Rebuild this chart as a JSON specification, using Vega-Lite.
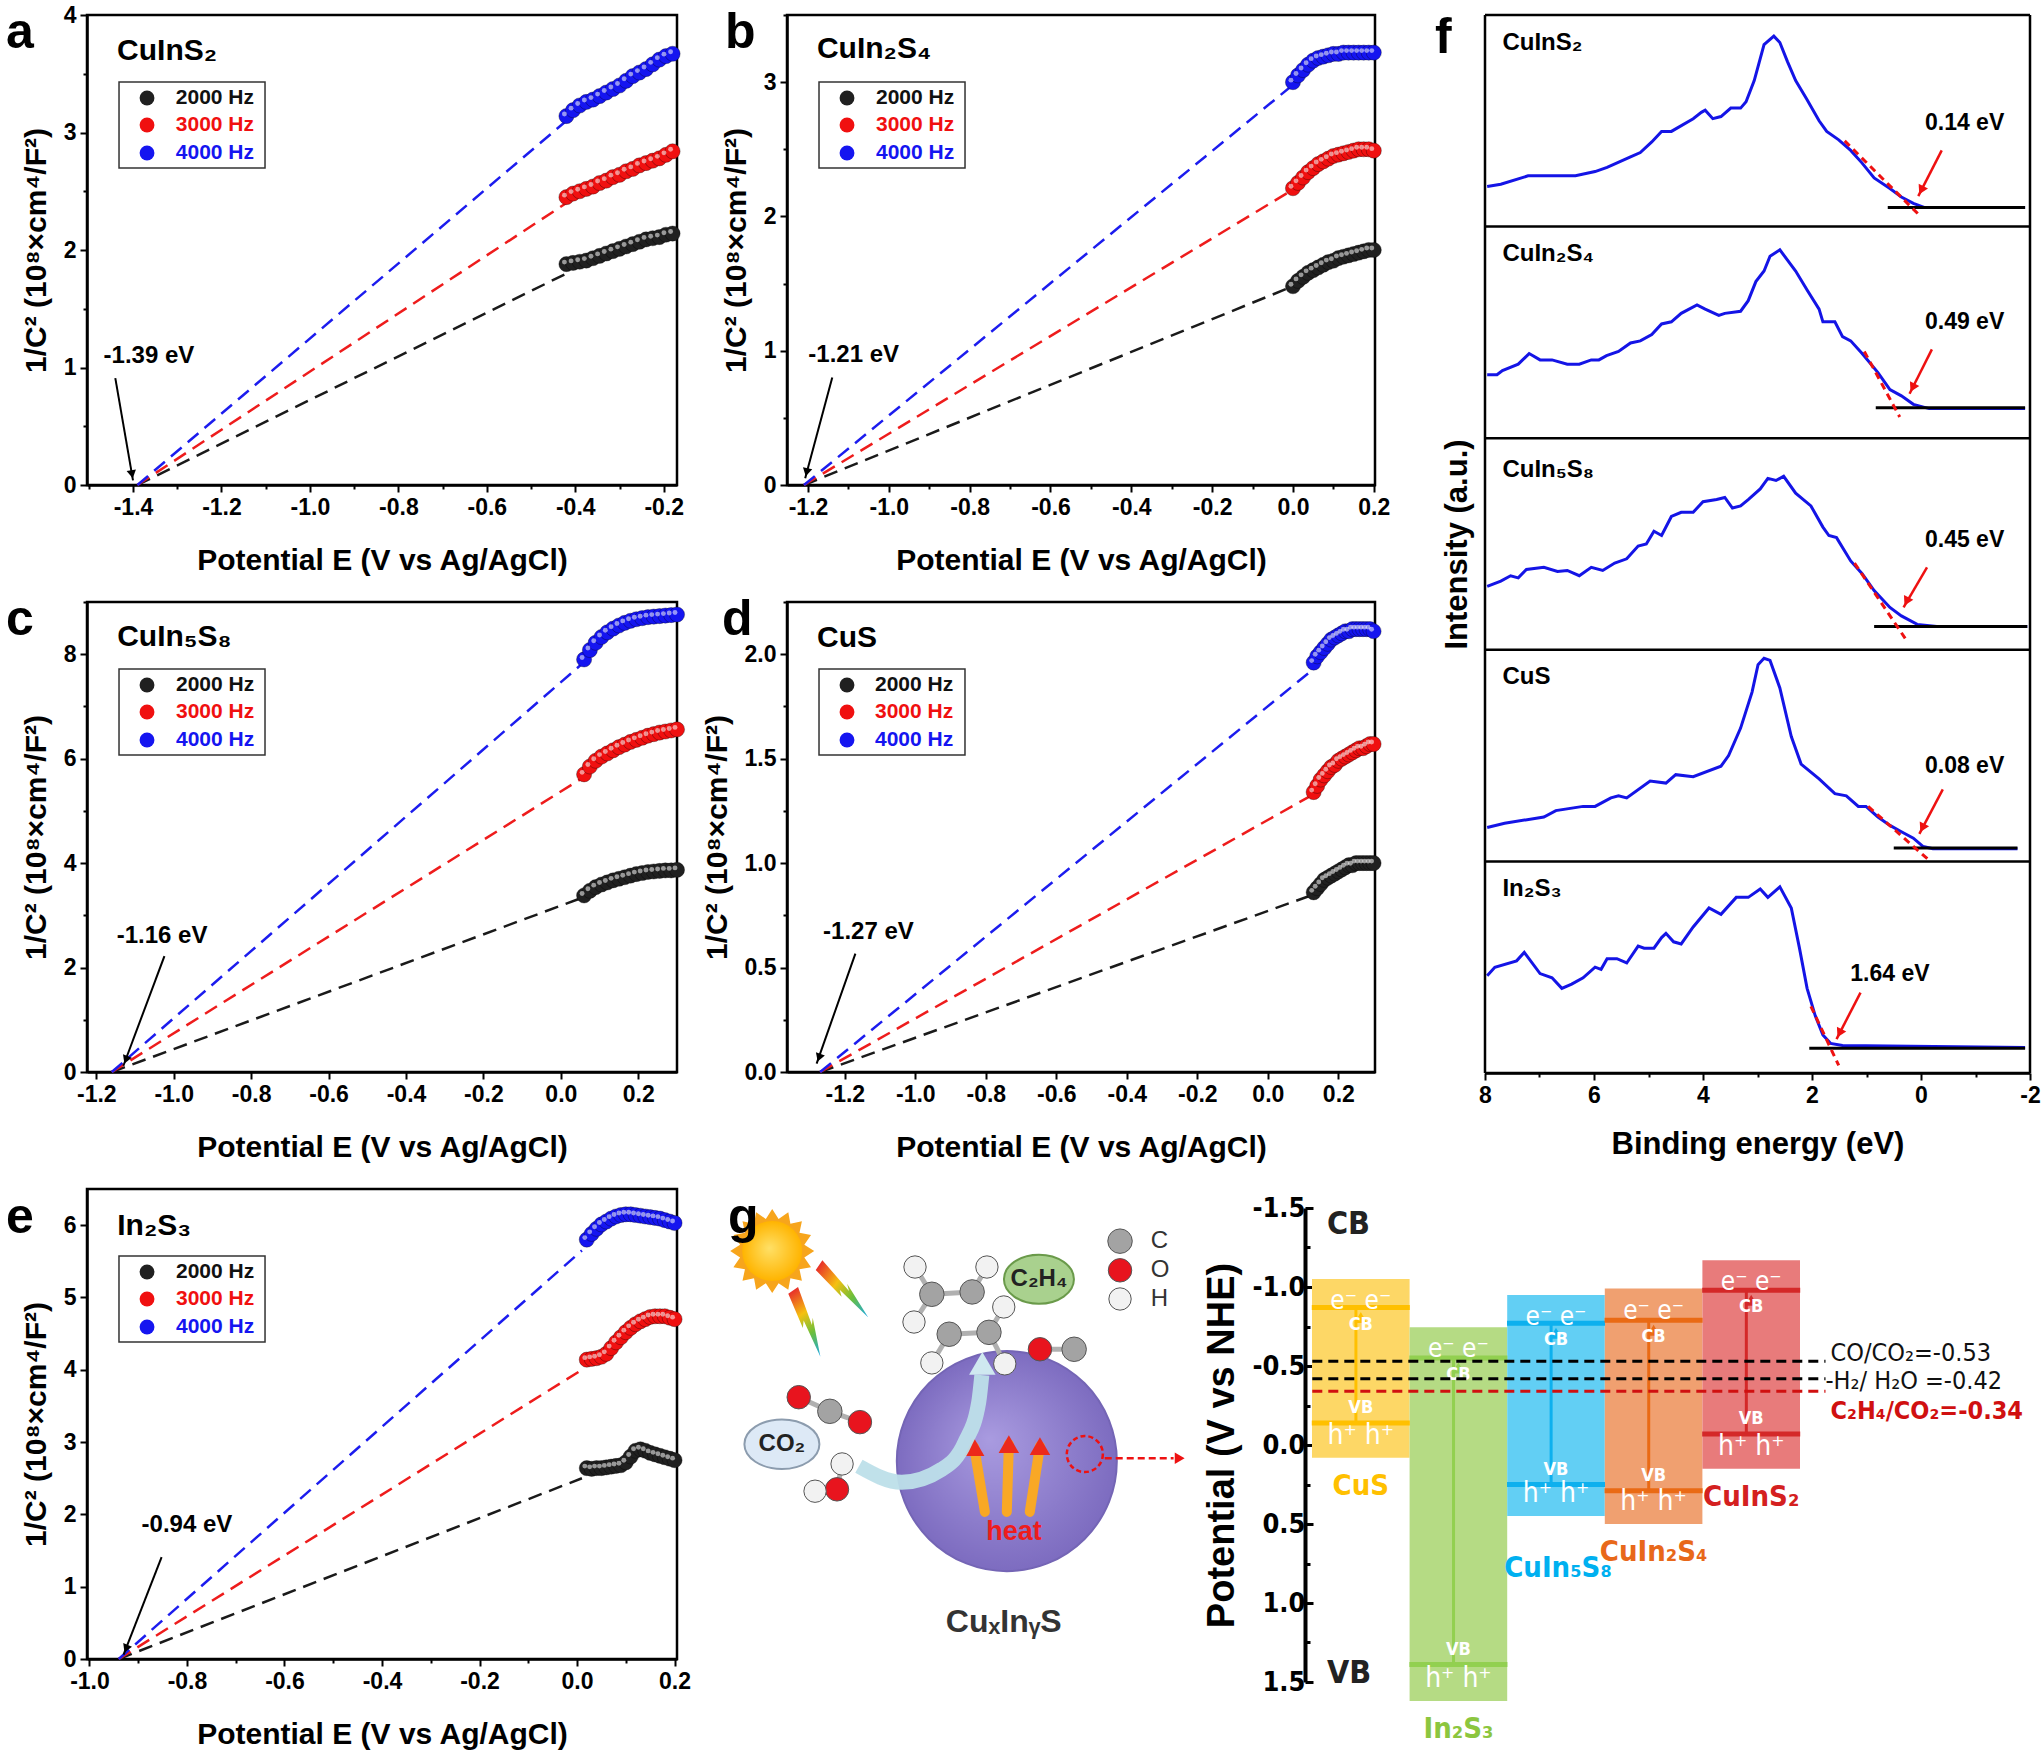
{
  "$schema": "https://vega.github.io/schema/vega-lite/v6.json",
  "background": "white",
  "padding": {"left": 4, "top": 2, "right": 0, "bottom": 0},
  "config": {
    "font": "Arial, Liberation Sans, sans-serif",
    "view": {"stroke": "black", "strokeWidth": 2.5},
    "axis": {"grid": false, "domainColor": "black", "domainWidth": 2.5, "tickColor": "black", "tickWidth": 2, "labelColor": "black", "titleColor": "black", "labelFontWeight": "bold", "titleFontWeight": "bold", "labelFontSize": 23, "titleFontSize": 30, "labelOverlap": false, "labelFlush": false, "labelPadding": 4},
    "title": {"anchor": "start", "frame": "group", "fontSize": 50, "fontWeight": "bold", "offset": 0, "baseline": "alphabetic", "color": "black"}
  },
  "datasets": {
    "msA": [
      {"f":"2000 Hz","E":-0.42,"C":1.88},{"f":"2000 Hz","E":-0.405,"C":1.89},{"f":"2000 Hz","E":-0.39,"C":1.90},{"f":"2000 Hz","E":-0.375,"C":1.91},{"f":"2000 Hz","E":-0.36,"C":1.93},{"f":"2000 Hz","E":-0.345,"C":1.95},{"f":"2000 Hz","E":-0.33,"C":1.97},{"f":"2000 Hz","E":-0.315,"C":1.99},{"f":"2000 Hz","E":-0.30,"C":2.01},{"f":"2000 Hz","E":-0.285,"C":2.03},{"f":"2000 Hz","E":-0.27,"C":2.05},{"f":"2000 Hz","E":-0.255,"C":2.07},{"f":"2000 Hz","E":-0.24,"C":2.09},{"f":"2000 Hz","E":-0.225,"C":2.10},{"f":"2000 Hz","E":-0.21,"C":2.11},{"f":"2000 Hz","E":-0.195,"C":2.13},{"f":"2000 Hz","E":-0.18,"C":2.14},
      {"f":"3000 Hz","E":-0.42,"C":2.45},{"f":"3000 Hz","E":-0.405,"C":2.48},{"f":"3000 Hz","E":-0.39,"C":2.50},{"f":"3000 Hz","E":-0.375,"C":2.52},{"f":"3000 Hz","E":-0.36,"C":2.54},{"f":"3000 Hz","E":-0.345,"C":2.57},{"f":"3000 Hz","E":-0.33,"C":2.59},{"f":"3000 Hz","E":-0.315,"C":2.62},{"f":"3000 Hz","E":-0.30,"C":2.64},{"f":"3000 Hz","E":-0.285,"C":2.67},{"f":"3000 Hz","E":-0.27,"C":2.69},{"f":"3000 Hz","E":-0.255,"C":2.72},{"f":"3000 Hz","E":-0.24,"C":2.74},{"f":"3000 Hz","E":-0.225,"C":2.76},{"f":"3000 Hz","E":-0.21,"C":2.78},{"f":"3000 Hz","E":-0.195,"C":2.81},{"f":"3000 Hz","E":-0.18,"C":2.84},
      {"f":"4000 Hz","E":-0.42,"C":3.14},{"f":"4000 Hz","E":-0.405,"C":3.19},{"f":"4000 Hz","E":-0.39,"C":3.23},{"f":"4000 Hz","E":-0.375,"C":3.26},{"f":"4000 Hz","E":-0.36,"C":3.28},{"f":"4000 Hz","E":-0.345,"C":3.31},{"f":"4000 Hz","E":-0.33,"C":3.34},{"f":"4000 Hz","E":-0.315,"C":3.37},{"f":"4000 Hz","E":-0.30,"C":3.40},{"f":"4000 Hz","E":-0.285,"C":3.44},{"f":"4000 Hz","E":-0.27,"C":3.48},{"f":"4000 Hz","E":-0.255,"C":3.51},{"f":"4000 Hz","E":-0.24,"C":3.54},{"f":"4000 Hz","E":-0.225,"C":3.58},{"f":"4000 Hz","E":-0.21,"C":3.62},{"f":"4000 Hz","E":-0.195,"C":3.65},{"f":"4000 Hz","E":-0.18,"C":3.67}
    ],
    "lnA": [
      {"f":"2000 Hz","E":-1.39,"C":0},{"f":"2000 Hz","E":-0.42,"C":1.80},
      {"f":"3000 Hz","E":-1.39,"C":0},{"f":"3000 Hz","E":-0.42,"C":2.40},
      {"f":"4000 Hz","E":-1.39,"C":0},{"f":"4000 Hz","E":-0.42,"C":3.10}
    ],
    "msB": [
      {"f":"2000 Hz","E":0,"C":1.48},{"f":"2000 Hz","E":0.0125,"C":1.52},{"f":"2000 Hz","E":0.025,"C":1.55},{"f":"2000 Hz","E":0.0375,"C":1.58},{"f":"2000 Hz","E":0.05,"C":1.60},{"f":"2000 Hz","E":0.0625,"C":1.62},{"f":"2000 Hz","E":0.075,"C":1.64},{"f":"2000 Hz","E":0.0875,"C":1.66},{"f":"2000 Hz","E":0.1,"C":1.67},{"f":"2000 Hz","E":0.1125,"C":1.69},{"f":"2000 Hz","E":0.125,"C":1.70},{"f":"2000 Hz","E":0.1375,"C":1.71},{"f":"2000 Hz","E":0.15,"C":1.72},{"f":"2000 Hz","E":0.1625,"C":1.73},{"f":"2000 Hz","E":0.175,"C":1.74},{"f":"2000 Hz","E":0.1875,"C":1.75},{"f":"2000 Hz","E":0.2,"C":1.75},
      {"f":"3000 Hz","E":0,"C":2.21},{"f":"3000 Hz","E":0.0125,"C":2.25},{"f":"3000 Hz","E":0.025,"C":2.29},{"f":"3000 Hz","E":0.0375,"C":2.33},{"f":"3000 Hz","E":0.05,"C":2.36},{"f":"3000 Hz","E":0.0625,"C":2.39},{"f":"3000 Hz","E":0.075,"C":2.41},{"f":"3000 Hz","E":0.0875,"C":2.43},{"f":"3000 Hz","E":0.1,"C":2.45},{"f":"3000 Hz","E":0.1125,"C":2.46},{"f":"3000 Hz","E":0.125,"C":2.47},{"f":"3000 Hz","E":0.1375,"C":2.48},{"f":"3000 Hz","E":0.15,"C":2.49},{"f":"3000 Hz","E":0.1625,"C":2.50},{"f":"3000 Hz","E":0.175,"C":2.50},{"f":"3000 Hz","E":0.1875,"C":2.50},{"f":"3000 Hz","E":0.2,"C":2.49},
      {"f":"4000 Hz","E":0,"C":3.00},{"f":"4000 Hz","E":0.0125,"C":3.05},{"f":"4000 Hz","E":0.025,"C":3.09},{"f":"4000 Hz","E":0.0375,"C":3.13},{"f":"4000 Hz","E":0.05,"C":3.16},{"f":"4000 Hz","E":0.0625,"C":3.18},{"f":"4000 Hz","E":0.075,"C":3.19},{"f":"4000 Hz","E":0.0875,"C":3.20},{"f":"4000 Hz","E":0.1,"C":3.21},{"f":"4000 Hz","E":0.1125,"C":3.21},{"f":"4000 Hz","E":0.125,"C":3.22},{"f":"4000 Hz","E":0.1375,"C":3.22},{"f":"4000 Hz","E":0.15,"C":3.22},{"f":"4000 Hz","E":0.1625,"C":3.22},{"f":"4000 Hz","E":0.175,"C":3.22},{"f":"4000 Hz","E":0.1875,"C":3.22},{"f":"4000 Hz","E":0.2,"C":3.22}
    ],
    "lnB": [
      {"f":"2000 Hz","E":-1.21,"C":0},{"f":"2000 Hz","E":0,"C":1.48},
      {"f":"3000 Hz","E":-1.21,"C":0},{"f":"3000 Hz","E":0,"C":2.20},
      {"f":"4000 Hz","E":-1.21,"C":0},{"f":"4000 Hz","E":0,"C":2.98}
    ],
    "msC": [
      {"f":"2000 Hz","E":0.06,"C":3.38},{"f":"2000 Hz","E":0.075,"C":3.47},{"f":"2000 Hz","E":0.09,"C":3.54},{"f":"2000 Hz","E":0.105,"C":3.59},{"f":"2000 Hz","E":0.12,"C":3.63},{"f":"2000 Hz","E":0.135,"C":3.67},{"f":"2000 Hz","E":0.15,"C":3.70},{"f":"2000 Hz","E":0.165,"C":3.73},{"f":"2000 Hz","E":0.18,"C":3.76},{"f":"2000 Hz","E":0.195,"C":3.79},{"f":"2000 Hz","E":0.21,"C":3.81},{"f":"2000 Hz","E":0.225,"C":3.83},{"f":"2000 Hz","E":0.24,"C":3.84},{"f":"2000 Hz","E":0.255,"C":3.85},{"f":"2000 Hz","E":0.27,"C":3.86},{"f":"2000 Hz","E":0.285,"C":3.86},{"f":"2000 Hz","E":0.3,"C":3.87},
      {"f":"3000 Hz","E":0.06,"C":5.70},{"f":"3000 Hz","E":0.075,"C":5.85},{"f":"3000 Hz","E":0.09,"C":5.96},{"f":"3000 Hz","E":0.105,"C":6.04},{"f":"3000 Hz","E":0.12,"C":6.10},{"f":"3000 Hz","E":0.135,"C":6.16},{"f":"3000 Hz","E":0.15,"C":6.22},{"f":"3000 Hz","E":0.165,"C":6.27},{"f":"3000 Hz","E":0.18,"C":6.32},{"f":"3000 Hz","E":0.195,"C":6.36},{"f":"3000 Hz","E":0.21,"C":6.40},{"f":"3000 Hz","E":0.225,"C":6.44},{"f":"3000 Hz","E":0.24,"C":6.47},{"f":"3000 Hz","E":0.255,"C":6.50},{"f":"3000 Hz","E":0.27,"C":6.52},{"f":"3000 Hz","E":0.285,"C":6.54},{"f":"3000 Hz","E":0.3,"C":6.56},
      {"f":"4000 Hz","E":0.06,"C":7.90},{"f":"4000 Hz","E":0.075,"C":8.08},{"f":"4000 Hz","E":0.09,"C":8.22},{"f":"4000 Hz","E":0.105,"C":8.33},{"f":"4000 Hz","E":0.12,"C":8.42},{"f":"4000 Hz","E":0.135,"C":8.49},{"f":"4000 Hz","E":0.15,"C":8.55},{"f":"4000 Hz","E":0.165,"C":8.60},{"f":"4000 Hz","E":0.18,"C":8.64},{"f":"4000 Hz","E":0.195,"C":8.67},{"f":"4000 Hz","E":0.21,"C":8.69},{"f":"4000 Hz","E":0.225,"C":8.71},{"f":"4000 Hz","E":0.24,"C":8.72},{"f":"4000 Hz","E":0.255,"C":8.73},{"f":"4000 Hz","E":0.27,"C":8.74},{"f":"4000 Hz","E":0.285,"C":8.75},{"f":"4000 Hz","E":0.3,"C":8.76}
    ],
    "lnC": [
      {"f":"2000 Hz","E":-1.16,"C":0},{"f":"2000 Hz","E":0.06,"C":3.35},
      {"f":"3000 Hz","E":-1.16,"C":0},{"f":"3000 Hz","E":0.06,"C":5.65},
      {"f":"4000 Hz","E":-1.16,"C":0},{"f":"4000 Hz","E":0.06,"C":7.85}
    ],
    "msD": [
      {"f":"2000 Hz","E":0.13,"C":0.86},{"f":"2000 Hz","E":0.14,"C":0.88},{"f":"2000 Hz","E":0.15,"C":0.90},{"f":"2000 Hz","E":0.16,"C":0.92},{"f":"2000 Hz","E":0.17,"C":0.93},{"f":"2000 Hz","E":0.18,"C":0.94},{"f":"2000 Hz","E":0.19,"C":0.95},{"f":"2000 Hz","E":0.20,"C":0.96},{"f":"2000 Hz","E":0.21,"C":0.97},{"f":"2000 Hz","E":0.22,"C":0.98},{"f":"2000 Hz","E":0.23,"C":0.99},{"f":"2000 Hz","E":0.24,"C":0.99},{"f":"2000 Hz","E":0.25,"C":1.00},{"f":"2000 Hz","E":0.26,"C":1.00},{"f":"2000 Hz","E":0.27,"C":1.00},{"f":"2000 Hz","E":0.28,"C":1.00},{"f":"2000 Hz","E":0.29,"C":1.00},{"f":"2000 Hz","E":0.30,"C":1.00},
      {"f":"3000 Hz","E":0.13,"C":1.34},{"f":"3000 Hz","E":0.14,"C":1.37},{"f":"3000 Hz","E":0.15,"C":1.40},{"f":"3000 Hz","E":0.16,"C":1.42},{"f":"3000 Hz","E":0.17,"C":1.44},{"f":"3000 Hz","E":0.18,"C":1.46},{"f":"3000 Hz","E":0.19,"C":1.47},{"f":"3000 Hz","E":0.20,"C":1.49},{"f":"3000 Hz","E":0.21,"C":1.50},{"f":"3000 Hz","E":0.22,"C":1.51},{"f":"3000 Hz","E":0.23,"C":1.52},{"f":"3000 Hz","E":0.24,"C":1.53},{"f":"3000 Hz","E":0.25,"C":1.54},{"f":"3000 Hz","E":0.26,"C":1.55},{"f":"3000 Hz","E":0.27,"C":1.55},{"f":"3000 Hz","E":0.28,"C":1.56},{"f":"3000 Hz","E":0.29,"C":1.57},{"f":"3000 Hz","E":0.30,"C":1.57},
      {"f":"4000 Hz","E":0.13,"C":1.96},{"f":"4000 Hz","E":0.14,"C":1.99},{"f":"4000 Hz","E":0.15,"C":2.01},{"f":"4000 Hz","E":0.16,"C":2.03},{"f":"4000 Hz","E":0.17,"C":2.05},{"f":"4000 Hz","E":0.18,"C":2.07},{"f":"4000 Hz","E":0.19,"C":2.08},{"f":"4000 Hz","E":0.20,"C":2.09},{"f":"4000 Hz","E":0.21,"C":2.10},{"f":"4000 Hz","E":0.22,"C":2.11},{"f":"4000 Hz","E":0.23,"C":2.11},{"f":"4000 Hz","E":0.24,"C":2.12},{"f":"4000 Hz","E":0.25,"C":2.12},{"f":"4000 Hz","E":0.26,"C":2.12},{"f":"4000 Hz","E":0.27,"C":2.12},{"f":"4000 Hz","E":0.28,"C":2.12},{"f":"4000 Hz","E":0.29,"C":2.12},{"f":"4000 Hz","E":0.30,"C":2.11}
    ],
    "lnD": [
      {"f":"2000 Hz","E":-1.27,"C":0},{"f":"2000 Hz","E":0.13,"C":0.85},
      {"f":"3000 Hz","E":-1.27,"C":0},{"f":"3000 Hz","E":0.13,"C":1.33},
      {"f":"4000 Hz","E":-1.27,"C":0},{"f":"4000 Hz","E":0.13,"C":1.93}
    ],
    "msE": [
      {"f":"2000 Hz","E":0.02,"C":2.64},{"f":"2000 Hz","E":0.03,"C":2.63},{"f":"2000 Hz","E":0.04,"C":2.64},{"f":"2000 Hz","E":0.05,"C":2.64},{"f":"2000 Hz","E":0.06,"C":2.65},{"f":"2000 Hz","E":0.07,"C":2.66},{"f":"2000 Hz","E":0.08,"C":2.67},{"f":"2000 Hz","E":0.09,"C":2.68},{"f":"2000 Hz","E":0.10,"C":2.72},{"f":"2000 Hz","E":0.11,"C":2.80},{"f":"2000 Hz","E":0.12,"C":2.88},{"f":"2000 Hz","E":0.13,"C":2.90},{"f":"2000 Hz","E":0.14,"C":2.88},{"f":"2000 Hz","E":0.15,"C":2.85},{"f":"2000 Hz","E":0.16,"C":2.83},{"f":"2000 Hz","E":0.17,"C":2.81},{"f":"2000 Hz","E":0.18,"C":2.79},{"f":"2000 Hz","E":0.19,"C":2.77},{"f":"2000 Hz","E":0.20,"C":2.75},
      {"f":"3000 Hz","E":0.02,"C":4.14},{"f":"3000 Hz","E":0.03,"C":4.15},{"f":"3000 Hz","E":0.04,"C":4.16},{"f":"3000 Hz","E":0.05,"C":4.18},{"f":"3000 Hz","E":0.06,"C":4.22},{"f":"3000 Hz","E":0.07,"C":4.30},{"f":"3000 Hz","E":0.08,"C":4.38},{"f":"3000 Hz","E":0.09,"C":4.45},{"f":"3000 Hz","E":0.10,"C":4.52},{"f":"3000 Hz","E":0.11,"C":4.58},{"f":"3000 Hz","E":0.12,"C":4.63},{"f":"3000 Hz","E":0.13,"C":4.67},{"f":"3000 Hz","E":0.14,"C":4.70},{"f":"3000 Hz","E":0.15,"C":4.73},{"f":"3000 Hz","E":0.16,"C":4.74},{"f":"3000 Hz","E":0.17,"C":4.74},{"f":"3000 Hz","E":0.18,"C":4.74},{"f":"3000 Hz","E":0.19,"C":4.72},{"f":"3000 Hz","E":0.20,"C":4.70},
      {"f":"4000 Hz","E":0.02,"C":5.80},{"f":"4000 Hz","E":0.03,"C":5.88},{"f":"4000 Hz","E":0.04,"C":5.95},{"f":"4000 Hz","E":0.05,"C":6.01},{"f":"4000 Hz","E":0.06,"C":6.05},{"f":"4000 Hz","E":0.07,"C":6.09},{"f":"4000 Hz","E":0.08,"C":6.12},{"f":"4000 Hz","E":0.09,"C":6.14},{"f":"4000 Hz","E":0.10,"C":6.15},{"f":"4000 Hz","E":0.11,"C":6.15},{"f":"4000 Hz","E":0.12,"C":6.14},{"f":"4000 Hz","E":0.13,"C":6.13},{"f":"4000 Hz","E":0.14,"C":6.12},{"f":"4000 Hz","E":0.15,"C":6.11},{"f":"4000 Hz","E":0.16,"C":6.10},{"f":"4000 Hz","E":0.17,"C":6.09},{"f":"4000 Hz","E":0.18,"C":6.07},{"f":"4000 Hz","E":0.19,"C":6.05},{"f":"4000 Hz","E":0.20,"C":6.03}
    ],
    "lnE": [
      {"f":"2000 Hz","E":-0.94,"C":0},{"f":"2000 Hz","E":0.01,"C":2.50},
      {"f":"3000 Hz","E":-0.94,"C":0},{"f":"3000 Hz","E":0.01,"C":4.00},
      {"f":"4000 Hz","E":-0.94,"C":0},{"f":"4000 Hz","E":0.01,"C":5.65}
    ],
    "xps": [
      {"s":"CuInS2","BE":7.96,"I":4.19},{"s":"CuInS2","BE":7.71,"I":4.20},{"s":"CuInS2","BE":7.21,"I":4.24},{"s":"CuInS2","BE":6.77,"I":4.24},{"s":"CuInS2","BE":6.34,"I":4.24},{"s":"CuInS2","BE":5.98,"I":4.26},{"s":"CuInS2","BE":5.76,"I":4.28},{"s":"CuInS2","BE":5.33,"I":4.33},{"s":"CuInS2","BE":5.15,"I":4.35},{"s":"CuInS2","BE":4.94,"I":4.40},{"s":"CuInS2","BE":4.76,"I":4.45},{"s":"CuInS2","BE":4.58,"I":4.45},{"s":"CuInS2","BE":4.18,"I":4.51},{"s":"CuInS2","BE":4.03,"I":4.54},{"s":"CuInS2","BE":3.96,"I":4.55},{"s":"CuInS2","BE":3.82,"I":4.51},{"s":"CuInS2","BE":3.67,"I":4.52},{"s":"CuInS2","BE":3.49,"I":4.56},{"s":"CuInS2","BE":3.31,"I":4.56},{"s":"CuInS2","BE":3.21,"I":4.59},{"s":"CuInS2","BE":3.06,"I":4.69},{"s":"CuInS2","BE":2.88,"I":4.86},{"s":"CuInS2","BE":2.70,"I":4.90},{"s":"CuInS2","BE":2.59,"I":4.87},{"s":"CuInS2","BE":2.45,"I":4.78},{"s":"CuInS2","BE":2.30,"I":4.69},{"s":"CuInS2","BE":2.09,"I":4.60},{"s":"CuInS2","BE":1.87,"I":4.50},{"s":"CuInS2","BE":1.73,"I":4.45},{"s":"CuInS2","BE":1.51,"I":4.41},{"s":"CuInS2","BE":1.29,"I":4.36},{"s":"CuInS2","BE":1.08,"I":4.30},{"s":"CuInS2","BE":0.86,"I":4.23},{"s":"CuInS2","BE":0.57,"I":4.18},{"s":"CuInS2","BE":0.36,"I":4.14},{"s":"CuInS2","BE":0.14,"I":4.11},{"s":"CuInS2","BE":-0.07,"I":4.09},{"s":"CuInS2","BE":-0.29,"I":4.09},{"s":"CuInS2","BE":-1.91,"I":4.09},
      {"s":"CuIn2S4","BE":7.96,"I":3.30},{"s":"CuIn2S4","BE":7.78,"I":3.30},{"s":"CuIn2S4","BE":7.68,"I":3.32},{"s":"CuIn2S4","BE":7.39,"I":3.35},{"s":"CuIn2S4","BE":7.19,"I":3.40},{"s":"CuIn2S4","BE":6.99,"I":3.37},{"s":"CuIn2S4","BE":6.77,"I":3.37},{"s":"CuIn2S4","BE":6.49,"I":3.35},{"s":"CuIn2S4","BE":6.27,"I":3.35},{"s":"CuIn2S4","BE":6.05,"I":3.37},{"s":"CuIn2S4","BE":5.91,"I":3.37},{"s":"CuIn2S4","BE":5.77,"I":3.39},{"s":"CuIn2S4","BE":5.55,"I":3.41},{"s":"CuIn2S4","BE":5.33,"I":3.45},{"s":"CuIn2S4","BE":5.15,"I":3.46},{"s":"CuIn2S4","BE":4.94,"I":3.49},{"s":"CuIn2S4","BE":4.76,"I":3.54},{"s":"CuIn2S4","BE":4.58,"I":3.55},{"s":"CuIn2S4","BE":4.40,"I":3.59},{"s":"CuIn2S4","BE":4.11,"I":3.63},{"s":"CuIn2S4","BE":3.96,"I":3.61},{"s":"CuIn2S4","BE":3.71,"I":3.58},{"s":"CuIn2S4","BE":3.60,"I":3.59},{"s":"CuIn2S4","BE":3.31,"I":3.60},{"s":"CuIn2S4","BE":3.17,"I":3.65},{"s":"CuIn2S4","BE":3.03,"I":3.74},{"s":"CuIn2S4","BE":2.88,"I":3.79},{"s":"CuIn2S4","BE":2.77,"I":3.86},{"s":"CuIn2S4","BE":2.59,"I":3.89},{"s":"CuIn2S4","BE":2.30,"I":3.79},{"s":"CuIn2S4","BE":2.09,"I":3.70},{"s":"CuIn2S4","BE":1.87,"I":3.61},{"s":"CuIn2S4","BE":1.80,"I":3.55},{"s":"CuIn2S4","BE":1.58,"I":3.55},{"s":"CuIn2S4","BE":1.44,"I":3.48},{"s":"CuIn2S4","BE":1.29,"I":3.46},{"s":"CuIn2S4","BE":1.08,"I":3.40},{"s":"CuIn2S4","BE":0.79,"I":3.31},{"s":"CuIn2S4","BE":0.57,"I":3.23},{"s":"CuIn2S4","BE":0.36,"I":3.20},{"s":"CuIn2S4","BE":0.14,"I":3.16},{"s":"CuIn2S4","BE":-0.15,"I":3.14},{"s":"CuIn2S4","BE":-1.91,"I":3.14},
      {"s":"CuIn5S8","BE":7.96,"I":2.30},{"s":"CuIn5S8","BE":7.71,"I":2.325},{"s":"CuIn5S8","BE":7.53,"I":2.35},{"s":"CuIn5S8","BE":7.39,"I":2.34},{"s":"CuIn5S8","BE":7.24,"I":2.38},{"s":"CuIn5S8","BE":6.92,"I":2.39},{"s":"CuIn5S8","BE":6.67,"I":2.37},{"s":"CuIn5S8","BE":6.49,"I":2.375},{"s":"CuIn5S8","BE":6.27,"I":2.35},{"s":"CuIn5S8","BE":6.05,"I":2.39},{"s":"CuIn5S8","BE":5.84,"I":2.375},{"s":"CuIn5S8","BE":5.62,"I":2.41},{"s":"CuIn5S8","BE":5.40,"I":2.43},{"s":"CuIn5S8","BE":5.19,"I":2.49},{"s":"CuIn5S8","BE":5.04,"I":2.50},{"s":"CuIn5S8","BE":4.90,"I":2.56},{"s":"CuIn5S8","BE":4.76,"I":2.54},{"s":"CuIn5S8","BE":4.58,"I":2.63},{"s":"CuIn5S8","BE":4.40,"I":2.65},{"s":"CuIn5S8","BE":4.18,"I":2.65},{"s":"CuIn5S8","BE":4.00,"I":2.70},{"s":"CuIn5S8","BE":3.75,"I":2.71},{"s":"CuIn5S8","BE":3.60,"I":2.72},{"s":"CuIn5S8","BE":3.46,"I":2.67},{"s":"CuIn5S8","BE":3.31,"I":2.68},{"s":"CuIn5S8","BE":3.17,"I":2.71},{"s":"CuIn5S8","BE":2.95,"I":2.76},{"s":"CuIn5S8","BE":2.81,"I":2.81},{"s":"CuIn5S8","BE":2.66,"I":2.80},{"s":"CuIn5S8","BE":2.52,"I":2.82},{"s":"CuIn5S8","BE":2.30,"I":2.74},{"s":"CuIn5S8","BE":2.02,"I":2.68},{"s":"CuIn5S8","BE":1.80,"I":2.58},{"s":"CuIn5S8","BE":1.69,"I":2.54},{"s":"CuIn5S8","BE":1.55,"I":2.53},{"s":"CuIn5S8","BE":1.29,"I":2.42},{"s":"CuIn5S8","BE":1.08,"I":2.36},{"s":"CuIn5S8","BE":0.86,"I":2.28},{"s":"CuIn5S8","BE":0.57,"I":2.20},{"s":"CuIn5S8","BE":0.36,"I":2.16},{"s":"CuIn5S8","BE":0.07,"I":2.12},{"s":"CuIn5S8","BE":-0.29,"I":2.11},{"s":"CuIn5S8","BE":-1.95,"I":2.11},
      {"s":"CuS","BE":7.96,"I":1.16},{"s":"CuS","BE":7.64,"I":1.18},{"s":"CuS","BE":6.92,"I":1.21},{"s":"CuS","BE":6.70,"I":1.24},{"s":"CuS","BE":6.20,"I":1.26},{"s":"CuS","BE":5.98,"I":1.26},{"s":"CuS","BE":5.69,"I":1.30},{"s":"CuS","BE":5.55,"I":1.31},{"s":"CuS","BE":5.40,"I":1.30},{"s":"CuS","BE":4.97,"I":1.38},{"s":"CuS","BE":4.68,"I":1.37},{"s":"CuS","BE":4.50,"I":1.41},{"s":"CuS","BE":4.18,"I":1.40},{"s":"CuS","BE":3.67,"I":1.45},{"s":"CuS","BE":3.53,"I":1.50},{"s":"CuS","BE":3.31,"I":1.63},{"s":"CuS","BE":3.10,"I":1.80},{"s":"CuS","BE":2.99,"I":1.93},{"s":"CuS","BE":2.88,"I":1.96},{"s":"CuS","BE":2.77,"I":1.95},{"s":"CuS","BE":2.59,"I":1.82},{"s":"CuS","BE":2.38,"I":1.59},{"s":"CuS","BE":2.20,"I":1.46},{"s":"CuS","BE":1.87,"I":1.39},{"s":"CuS","BE":1.58,"I":1.32},{"s":"CuS","BE":1.37,"I":1.31},{"s":"CuS","BE":1.15,"I":1.26},{"s":"CuS","BE":1.01,"I":1.26},{"s":"CuS","BE":0.79,"I":1.21},{"s":"CuS","BE":0.57,"I":1.17},{"s":"CuS","BE":0.36,"I":1.14},{"s":"CuS","BE":0.14,"I":1.11},{"s":"CuS","BE":-0.04,"I":1.07},{"s":"CuS","BE":-0.22,"I":1.06},{"s":"CuS","BE":-1.77,"I":1.06},
      {"s":"In2S3","BE":7.96,"I":0.46},{"s":"In2S3","BE":7.82,"I":0.50},{"s":"In2S3","BE":7.42,"I":0.53},{"s":"In2S3","BE":7.28,"I":0.57},{"s":"In2S3","BE":6.99,"I":0.47},{"s":"In2S3","BE":6.77,"I":0.45},{"s":"In2S3","BE":6.59,"I":0.40},{"s":"In2S3","BE":6.41,"I":0.42},{"s":"In2S3","BE":6.20,"I":0.45},{"s":"In2S3","BE":5.98,"I":0.50},{"s":"In2S3","BE":5.87,"I":0.49},{"s":"In2S3","BE":5.76,"I":0.54},{"s":"In2S3","BE":5.58,"I":0.54},{"s":"In2S3","BE":5.40,"I":0.52},{"s":"In2S3","BE":5.19,"I":0.60},{"s":"In2S3","BE":5.08,"I":0.59},{"s":"In2S3","BE":4.90,"I":0.59},{"s":"In2S3","BE":4.76,"I":0.64},{"s":"In2S3","BE":4.68,"I":0.66},{"s":"In2S3","BE":4.54,"I":0.62},{"s":"In2S3","BE":4.40,"I":0.61},{"s":"In2S3","BE":4.18,"I":0.69},{"s":"In2S3","BE":3.89,"I":0.78},{"s":"In2S3","BE":3.67,"I":0.75},{"s":"In2S3","BE":3.39,"I":0.83},{"s":"In2S3","BE":3.17,"I":0.83},{"s":"In2S3","BE":2.95,"I":0.87},{"s":"In2S3","BE":2.81,"I":0.83},{"s":"In2S3","BE":2.59,"I":0.88},{"s":"In2S3","BE":2.38,"I":0.78},{"s":"In2S3","BE":2.23,"I":0.59},{"s":"In2S3","BE":2.09,"I":0.40},{"s":"In2S3","BE":1.94,"I":0.27},{"s":"In2S3","BE":1.80,"I":0.18},{"s":"In2S3","BE":1.66,"I":0.14},{"s":"In2S3","BE":1.44,"I":0.13},{"s":"In2S3","BE":-1.91,"I":0.12}
    ],
    "xbase": [
      {"s":"CuInS2","b1":0.61,"b2":-1.91,"I":4.09},
      {"s":"CuIn2S4","b1":0.83,"b2":-1.91,"I":3.144},
      {"s":"CuIn5S8","b1":0.86,"b2":-1.95,"I":2.11},
      {"s":"CuS","b1":0.50,"b2":-1.77,"I":1.063},
      {"s":"In2S3","b1":2.05,"b2":-1.91,"I":0.117}
    ],
    "xtan": [
      {"s":"CuInS2","b1":1.40,"i1":4.405,"b2":0.03,"i2":4.054},
      {"s":"CuIn2S4","b1":1.04,"i1":3.41,"b2":0.39,"i2":3.10},
      {"s":"CuIn5S8","b1":1.22,"i1":2.41,"b2":0.29,"i2":2.054},
      {"s":"CuS","b1":0.97,"i1":1.26,"b2":-0.15,"i2":1.005},
      {"s":"In2S3","b1":2.02,"i1":0.315,"b2":1.51,"i2":0.036}
    ],
    "xarrow": [
      {"s":"CuInS2","b1":-0.38,"i1":4.36,"b2":0.05,"i2":4.144},
      {"s":"CuIn2S4","b1":-0.20,"i1":3.42,"b2":0.21,"i2":3.21},
      {"s":"CuIn5S8","b1":-0.11,"i1":2.39,"b2":0.32,"i2":2.20},
      {"s":"CuS","b1":-0.40,"i1":1.34,"b2":0.03,"i2":1.13},
      {"s":"In2S3","b1":1.11,"i1":0.38,"b2":1.55,"i2":0.16}
    ],
    "xnames": [
      {"t":"CuInS₂","BE":7.68,"I":4.87},
      {"t":"CuIn₂S₄","BE":7.68,"I":3.87},
      {"t":"CuIn₅S₈","BE":7.68,"I":2.85},
      {"t":"CuS","BE":7.68,"I":1.87},
      {"t":"In₂S₃","BE":7.68,"I":0.87}
    ],
    "xev": [
      {"t":"0.14 eV","BE":-0.80,"I":4.49},
      {"t":"0.49 eV","BE":-0.80,"I":3.55},
      {"t":"0.45 eV","BE":-0.80,"I":2.52},
      {"t":"0.08 eV","BE":-0.80,"I":1.45},
      {"t":"1.64 eV","BE":0.57,"I":0.47}
    ],
    "bands": [
      {"m":"CuS","name":"CuS","top":-1.05,"bot":0.08,"cb":-0.87,"vb":-0.14},
      {"m":"In2S3","name":"In₂S₃","top":-0.745,"bot":1.62,"cb":-0.55,"vb":1.39},
      {"m":"CuIn5S8","name":"CuIn₅S₈","top":-0.95,"bot":0.45,"cb":-0.77,"vb":0.25},
      {"m":"CuIn2S4","name":"CuIn₂S₄","top":-0.99,"bot":0.50,"cb":-0.79,"vb":0.29},
      {"m":"CuInS2","name":"CuInS₂","top":-1.17,"bot":0.15,"cb":-0.98,"vb":-0.07}
    ],
    "redox": [
      {"lab":"CO/CO₂","v":-0.53},
      {"lab":"H₂/H₂O","v":-0.42},
      {"lab":"C₂H₄/CO₂","v":-0.34}
    ]
  },
  "columns": 3,
  "align": "none",
  "bounds": "flush",
  "spacing": {"row": 117, "column": 110},
  "resolve": {"scale": {"color": "independent", "fill": "independent", "stroke": "independent", "size": "independent", "x": "independent", "y": "independent"}},
  "concat": [
    {
      "width": 590, "height": 470,
      "title": {"text": "a", "dx": -81, "dy": 58},
      "layer": [
        {"data": {"name": "lnA"}, "mark": {"type": "line", "strokeDash": [14, 8], "strokeWidth": 2.5},
         "encoding": {
           "x": {"field": "E", "type": "quantitative", "scale": {"domain": [-1.504, -0.17], "nice": false, "zero": false},
                 "axis": {"title": "Potential E (V vs Ag/AgCl)", "titlePadding": 26, "values": [-1.5,-1.4,-1.3,-1.2,-1.1,-1.0,-0.9,-0.8,-0.7,-0.6,-0.5,-0.4,-0.3,-0.2],
                          "labelExpr": "abs(round(datum.value*10)) % 2 == 1 ? '' : replace(format(datum.value, '.1f'), '−', '-')",
                          "tickSize": {"condition": {"test": "abs(round(datum.value*10)) % 2 == 1", "value": 4}, "value": 7}}},
           "y": {"field": "C", "type": "quantitative", "scale": {"domain": [0, 4], "nice": false, "zero": false},
                 "axis": {"title": "1/C² (10⁸×cm⁴/F²)", "titlePadding": 12, "values": [0,0.5,1,1.5,2,2.5,3,3.5,4],
                          "labelExpr": "datum.value % 1 != 0 ? '' : format(datum.value, 'd')",
                          "tickSize": {"condition": {"test": "datum.value % 1 != 0", "value": 4}, "value": 7}}},
           "stroke": {"field": "f", "type": "nominal", "scale": {"domain": ["2000 Hz","3000 Hz","4000 Hz"], "range": ["#1a1a1a","#ee1c1c","#1c1cee"]}, "legend": null}
         }},
        {"data": {"name": "msA"}, "mark": {"type": "point", "shape": "circle", "filled": true, "size": 230, "opacity": 1, "stroke": "black", "strokeWidth": 0.7, "strokeOpacity": 0.45},
         "encoding": {
           "x": {"field": "E", "type": "quantitative"},
           "y": {"field": "C", "type": "quantitative"},
           "color": {"field": "f", "type": "nominal", "scale": {"domain": ["2000 Hz","3000 Hz","4000 Hz"], "range": ["#202020","#f01010","#1515f0"]}, "legend": null}
         }},
        {"data": {"name": "msA"}, "mark": {"type": "point", "shape": "circle", "filled": true, "size": 24, "color": "white", "opacity": 0.55, "xOffset": -2, "yOffset": -2},
         "encoding": {"x": {"field": "E", "type": "quantitative"}, "y": {"field": "C", "type": "quantitative"}}},
        {"data": {"values": [{}]}, "mark": {"type": "text", "text": "-1.39 eV", "fontSize": 24, "fontWeight": "bold", "color": "black"},
         "encoding": {"x": {"datum": -1.364}, "y": {"datum": 1.1}}},
        {"data": {"values": [{}]}, "mark": {"type": "rule", "strokeWidth": 2, "color": "black"},
         "encoding": {"x": {"datum": -1.44}, "y": {"datum": 0.91}, "x2": {"datum": -1.40}, "y2": {"datum": 0.04}}},
        {"data": {"values": [{}]}, "mark": {"type": "point", "shape": "triangle-up", "filled": true, "size": 90, "color": "black", "opacity": 1, "angle": 170, "xOffset": -1, "yOffset": -6},
         "encoding": {"x": {"datum": -1.40}, "y": {"datum": 0.04}}},
        {"data": {"values": [{}]}, "mark": {"type": "text", "text": "CuInS₂", "align": "left", "fontSize": 30, "fontWeight": "bold", "color": "black"},
         "encoding": {"x": {"datum": -1.436}, "y": {"datum": 3.69}}},
        {"data": {"values": [{}]}, "mark": {"type": "rect", "color": "black", "opacity": 1, "xOffset": 4, "yOffset": 4},
         "encoding": {"x": {"datum": -1.4316}, "x2": {"datum": -1.1015}, "y": {"datum": 3.4298}, "y2": {"datum": 2.6979}}},
        {"data": {"values": [{}]}, "mark": {"type": "rect", "fill": "white", "stroke": "#333333", "strokeWidth": 1.5, "opacity": 1},
         "encoding": {"x": {"datum": -1.4316}, "x2": {"datum": -1.1015}, "y": {"datum": 3.4298}, "y2": {"datum": 2.6979}}},
        {"data": {"values": [{}]}, "mark": {"type": "point", "shape": "circle", "filled": true, "size": 220, "color": "#202020", "opacity": 1}, "encoding": {"x": {"datum": -1.3683}, "y": {"datum": 3.2936}}},
        {"data": {"values": [{}]}, "mark": {"type": "point", "shape": "circle", "filled": true, "size": 220, "color": "#f01010", "opacity": 1}, "encoding": {"x": {"datum": -1.3683}, "y": {"datum": 3.0638}}},
        {"data": {"values": [{}]}, "mark": {"type": "point", "shape": "circle", "filled": true, "size": 220, "color": "#1515f0", "opacity": 1}, "encoding": {"x": {"datum": -1.3683}, "y": {"datum": 2.8255}}},
        {"data": {"values": [{}]}, "mark": {"type": "text", "text": "2000 Hz", "align": "left", "fontSize": 21, "fontWeight": "bold", "color": "#111111"}, "encoding": {"x": {"datum": -1.3032}, "y": {"datum": 3.2936}}},
        {"data": {"values": [{}]}, "mark": {"type": "text", "text": "3000 Hz", "align": "left", "fontSize": 21, "fontWeight": "bold", "color": "#f01010"}, "encoding": {"x": {"datum": -1.3032}, "y": {"datum": 3.0638}}},
        {"data": {"values": [{}]}, "mark": {"type": "text", "text": "4000 Hz", "align": "left", "fontSize": 21, "fontWeight": "bold", "color": "#1515f0"}, "encoding": {"x": {"datum": -1.3032}, "y": {"datum": 2.8255}}}
      ]
    },
    {
      "width": 588, "height": 470,
      "title": {"text": "b", "dx": -62, "dy": 58},
      "layer": [
        {"data": {"name": "lnB"}, "mark": {"type": "line", "strokeDash": [14, 8], "strokeWidth": 2.5},
         "encoding": {
           "x": {"field": "E", "type": "quantitative", "scale": {"domain": [-1.252, 0.203], "nice": false, "zero": false},
                 "axis": {"title": "Potential E (V vs Ag/AgCl)", "titlePadding": 26, "values": [-1.2,-1.1,-1.0,-0.9,-0.8,-0.7,-0.6,-0.5,-0.4,-0.3,-0.2,-0.1,0,0.1,0.2],
                          "labelExpr": "abs(round(datum.value*10)) % 2 == 1 ? '' : replace(format(datum.value, '.1f'), '−', '-')",
                          "tickSize": {"condition": {"test": "abs(round(datum.value*10)) % 2 == 1", "value": 4}, "value": 7}}},
           "y": {"field": "C", "type": "quantitative", "scale": {"domain": [0, 3.5], "nice": false, "zero": false},
                 "axis": {"title": "1/C² (10⁸×cm⁴/F²)", "titlePadding": 12, "values": [0,0.5,1,1.5,2,2.5,3,3.5],
                          "labelExpr": "datum.value % 1 != 0 ? '' : format(datum.value, 'd')",
                          "tickSize": {"condition": {"test": "datum.value % 1 != 0", "value": 4}, "value": 7}}},
           "stroke": {"field": "f", "type": "nominal", "scale": {"domain": ["2000 Hz","3000 Hz","4000 Hz"], "range": ["#1a1a1a","#ee1c1c","#1c1cee"]}, "legend": null}
         }},
        {"data": {"name": "msB"}, "mark": {"type": "point", "shape": "circle", "filled": true, "size": 230, "opacity": 1, "stroke": "black", "strokeWidth": 0.7, "strokeOpacity": 0.45},
         "encoding": {
           "x": {"field": "E", "type": "quantitative"},
           "y": {"field": "C", "type": "quantitative"},
           "color": {"field": "f", "type": "nominal", "scale": {"domain": ["2000 Hz","3000 Hz","4000 Hz"], "range": ["#202020","#f01010","#1515f0"]}, "legend": null}
         }},
        {"data": {"name": "msB"}, "mark": {"type": "point", "shape": "circle", "filled": true, "size": 24, "color": "white", "opacity": 0.55, "xOffset": -2, "yOffset": -2},
         "encoding": {"x": {"field": "E", "type": "quantitative"}, "y": {"field": "C", "type": "quantitative"}}},
        {"data": {"values": [{}]}, "mark": {"type": "text", "text": "-1.21 eV", "fontSize": 24, "fontWeight": "bold", "color": "black"},
         "encoding": {"x": {"datum": -1.087}, "y": {"datum": 0.97}}},
        {"data": {"values": [{}]}, "mark": {"type": "rule", "strokeWidth": 2, "color": "black"},
         "encoding": {"x": {"datum": -1.14}, "y": {"datum": 0.80}, "x2": {"datum": -1.207}, "y2": {"datum": 0.05}}},
        {"data": {"values": [{}]}, "mark": {"type": "point", "shape": "triangle-up", "filled": true, "size": 90, "color": "black", "opacity": 1, "angle": 193, "xOffset": 1.5, "yOffset": -6},
         "encoding": {"x": {"datum": -1.207}, "y": {"datum": 0.05}}},
        {"data": {"values": [{}]}, "mark": {"type": "text", "text": "CuIn₂S₄", "align": "left", "fontSize": 30, "fontWeight": "bold", "color": "black"},
         "encoding": {"x": {"datum": -1.178}, "y": {"datum": 3.25}}},
        {"data": {"values": [{}]}, "mark": {"type": "rect", "color": "black", "opacity": 1, "xOffset": 4, "yOffset": 4},
         "encoding": {"x": {"datum": -1.1728}, "x2": {"datum": -0.8115}, "y": {"datum": 3.0011}, "y2": {"datum": 2.3607}}},
        {"data": {"values": [{}]}, "mark": {"type": "rect", "fill": "white", "stroke": "#333333", "strokeWidth": 1.5, "opacity": 1},
         "encoding": {"x": {"datum": -1.1728}, "x2": {"datum": -0.8115}, "y": {"datum": 3.0011}, "y2": {"datum": 2.3607}}},
        {"data": {"values": [{}]}, "mark": {"type": "point", "shape": "circle", "filled": true, "size": 220, "color": "#202020", "opacity": 1}, "encoding": {"x": {"datum": -1.1035}, "y": {"datum": 2.8819}}},
        {"data": {"values": [{}]}, "mark": {"type": "point", "shape": "circle", "filled": true, "size": 220, "color": "#f01010", "opacity": 1}, "encoding": {"x": {"datum": -1.1035}, "y": {"datum": 2.6809}}},
        {"data": {"values": [{}]}, "mark": {"type": "point", "shape": "circle", "filled": true, "size": 220, "color": "#1515f0", "opacity": 1}, "encoding": {"x": {"datum": -1.1035}, "y": {"datum": 2.4724}}},
        {"data": {"values": [{}]}, "mark": {"type": "text", "text": "2000 Hz", "align": "left", "fontSize": 21, "fontWeight": "bold", "color": "#111111"}, "encoding": {"x": {"datum": -1.0318}, "y": {"datum": 2.8819}}},
        {"data": {"values": [{}]}, "mark": {"type": "text", "text": "3000 Hz", "align": "left", "fontSize": 21, "fontWeight": "bold", "color": "#f01010"}, "encoding": {"x": {"datum": -1.0318}, "y": {"datum": 2.6809}}},
        {"data": {"values": [{}]}, "mark": {"type": "text", "text": "4000 Hz", "align": "left", "fontSize": 21, "fontWeight": "bold", "color": "#1515f0"}, "encoding": {"x": {"datum": -1.0318}, "y": {"datum": 2.4724}}}
      ]
    },
    {
      "width": 545, "height": 470,
      "view": {"stroke": null},
      "title": {"text": "f", "dx": -50, "dy": 53},
      "layer": [
        {"data": {"name": "xps"}, "mark": {"type": "line", "color": "#1414e6", "strokeWidth": 3},
         "encoding": {
           "x": {"field": "BE", "type": "quantitative", "scale": {"domain": [8, -2], "nice": false, "zero": false},
                 "axis": {"title": "Binding energy (eV)", "titleFontSize": 31, "titlePadding": 22, "offset": 588, "values": [8,7,6,5,4,3,2,1,0,-1,-2],
                          "labelExpr": "datum.value % 2 != 0 ? '' : replace(format(datum.value, 'd'), '−', '-')",
                          "tickSize": {"condition": {"test": "datum.value % 2 != 0", "value": 4}, "value": 7}}},
           "y": {"field": "I", "type": "quantitative", "scale": {"domain": [0, 5], "range": [1058, 0], "nice": false, "zero": false},
                 "axis": {"title": "Intensity (a.u.)", "titleFontSize": 31, "labels": false, "ticks": false, "domain": false, "titlePadding": 12}},
           "detail": {"field": "s"}
         }},
        {"data": {"name": "xbase"}, "mark": {"type": "rule", "color": "black", "strokeWidth": 3},
         "encoding": {"x": {"field": "b1", "type": "quantitative"}, "x2": {"field": "b2"}, "y": {"field": "I", "type": "quantitative"}}},
        {"data": {"name": "xtan"}, "mark": {"type": "rule", "color": "#ee1111", "strokeWidth": 3, "strokeDash": [7, 5]},
         "encoding": {"x": {"field": "b1", "type": "quantitative"}, "x2": {"field": "b2"}, "y": {"field": "i1", "type": "quantitative"}, "y2": {"field": "i2"}}},
        {"data": {"name": "xarrow"}, "mark": {"type": "rule", "color": "#ee1111", "strokeWidth": 2.5},
         "encoding": {"x": {"field": "b1", "type": "quantitative"}, "x2": {"field": "b2"}, "y": {"field": "i1", "type": "quantitative"}, "y2": {"field": "i2"}}},
        {"data": {"name": "xarrow"}, "mark": {"type": "point", "shape": "triangle-up", "filled": true, "size": 110, "color": "#ee1111", "opacity": 1, "angle": 207, "xOffset": 3, "yOffset": -6},
         "encoding": {"x": {"field": "b2", "type": "quantitative"}, "y": {"field": "i2", "type": "quantitative"}}},
        {"data": {"values": [{"y": 0}, {"y": 1}, {"y": 2}, {"y": 3}, {"y": 4}, {"y": 5}]}, "mark": {"type": "rule", "color": "black", "strokeWidth": 2.5},
         "encoding": {"y": {"field": "y", "type": "quantitative"}}},
        {"data": {"values": [{"BE": 8}, {"BE": -2}]}, "mark": {"type": "rule", "color": "black", "strokeWidth": 2.5},
         "encoding": {"x": {"field": "BE", "type": "quantitative"}, "y": {"datum": 0}, "y2": {"datum": 5}}},
        {"data": {"name": "xnames"}, "mark": {"type": "text", "align": "left", "fontSize": 24, "fontWeight": "bold", "color": "black"},
         "encoding": {"x": {"field": "BE", "type": "quantitative"}, "y": {"field": "I", "type": "quantitative"}, "text": {"field": "t"}}},
        {"data": {"name": "xev"}, "mark": {"type": "text", "fontSize": 23, "fontWeight": "bold", "color": "black"},
         "encoding": {"x": {"field": "BE", "type": "quantitative"}, "y": {"field": "I", "type": "quantitative"}, "text": {"field": "t"}}}
      ]
    },
    {
      "width": 590, "height": 470,
      "title": {"text": "c", "dx": -81, "dy": 58},
      "layer": [
        {"data": {"name": "lnC"}, "mark": {"type": "line", "strokeDash": [14, 8], "strokeWidth": 2.5},
         "encoding": {
           "x": {"field": "E", "type": "quantitative", "scale": {"domain": [-1.224, 0.30], "nice": false, "zero": false},
                 "axis": {"title": "Potential E (V vs Ag/AgCl)", "titlePadding": 26, "values": [-1.2,-1.1,-1.0,-0.9,-0.8,-0.7,-0.6,-0.5,-0.4,-0.3,-0.2,-0.1,0,0.1,0.2,0.3],
                          "labelExpr": "abs(round(datum.value*10)) % 2 == 1 ? '' : replace(format(datum.value, '.1f'), '−', '-')",
                          "tickSize": {"condition": {"test": "abs(round(datum.value*10)) % 2 == 1", "value": 4}, "value": 7}}},
           "y": {"field": "C", "type": "quantitative", "scale": {"domain": [0, 9], "nice": false, "zero": false},
                 "axis": {"title": "1/C² (10⁸×cm⁴/F²)", "titlePadding": 12, "values": [0,1,2,3,4,5,6,7,8,9],
                          "labelExpr": "datum.value % 2 != 0 ? '' : format(datum.value, 'd')",
                          "tickSize": {"condition": {"test": "datum.value % 2 != 0", "value": 4}, "value": 7}}},
           "stroke": {"field": "f", "type": "nominal", "scale": {"domain": ["2000 Hz","3000 Hz","4000 Hz"], "range": ["#1a1a1a","#ee1c1c","#1c1cee"]}, "legend": null}
         }},
        {"data": {"name": "msC"}, "mark": {"type": "point", "shape": "circle", "filled": true, "size": 230, "opacity": 1, "stroke": "black", "strokeWidth": 0.7, "strokeOpacity": 0.45},
         "encoding": {
           "x": {"field": "E", "type": "quantitative"},
           "y": {"field": "C", "type": "quantitative"},
           "color": {"field": "f", "type": "nominal", "scale": {"domain": ["2000 Hz","3000 Hz","4000 Hz"], "range": ["#202020","#f01010","#1515f0"]}, "legend": null}
         }},
        {"data": {"name": "msC"}, "mark": {"type": "point", "shape": "circle", "filled": true, "size": 24, "color": "white", "opacity": 0.55, "xOffset": -2, "yOffset": -2},
         "encoding": {"x": {"field": "E", "type": "quantitative"}, "y": {"field": "C", "type": "quantitative"}}},
        {"data": {"values": [{}]}, "mark": {"type": "text", "text": "-1.16 eV", "fontSize": 24, "fontWeight": "bold", "color": "black"},
         "encoding": {"x": {"datum": -1.03}, "y": {"datum": 2.6}}},
        {"data": {"values": [{}]}, "mark": {"type": "rule", "strokeWidth": 2, "color": "black"},
         "encoding": {"x": {"datum": -1.024}, "y": {"datum": 2.22}, "x2": {"datum": -1.13}, "y2": {"datum": 0.12}}},
        {"data": {"values": [{}]}, "mark": {"type": "point", "shape": "triangle-up", "filled": true, "size": 90, "color": "black", "opacity": 1, "angle": 202, "xOffset": 2.5, "yOffset": -6},
         "encoding": {"x": {"datum": -1.13}, "y": {"datum": 0.12}}},
        {"data": {"values": [{}]}, "mark": {"type": "text", "text": "CuIn₅S₈", "align": "left", "fontSize": 30, "fontWeight": "bold", "color": "black"},
         "encoding": {"x": {"datum": -1.146}, "y": {"datum": 8.33}}},
        {"data": {"values": [{}]}, "mark": {"type": "rect", "color": "black", "opacity": 1, "xOffset": 4, "yOffset": 4},
         "encoding": {"x": {"datum": -1.1413}, "x2": {"datum": -0.7642}, "y": {"datum": 7.717}, "y2": {"datum": 6.070}}},
        {"data": {"values": [{}]}, "mark": {"type": "rect", "fill": "white", "stroke": "#333333", "strokeWidth": 1.5, "opacity": 1},
         "encoding": {"x": {"datum": -1.1413}, "x2": {"datum": -0.7642}, "y": {"datum": 7.717}, "y2": {"datum": 6.070}}},
        {"data": {"values": [{}]}, "mark": {"type": "point", "shape": "circle", "filled": true, "size": 220, "color": "#202020", "opacity": 1}, "encoding": {"x": {"datum": -1.0690}, "y": {"datum": 7.4106}}},
        {"data": {"values": [{}]}, "mark": {"type": "point", "shape": "circle", "filled": true, "size": 220, "color": "#f01010", "opacity": 1}, "encoding": {"x": {"datum": -1.0690}, "y": {"datum": 6.8936}}},
        {"data": {"values": [{}]}, "mark": {"type": "point", "shape": "circle", "filled": true, "size": 220, "color": "#1515f0", "opacity": 1}, "encoding": {"x": {"datum": -1.0690}, "y": {"datum": 6.3574}}},
        {"data": {"values": [{}]}, "mark": {"type": "text", "text": "2000 Hz", "align": "left", "fontSize": 21, "fontWeight": "bold", "color": "#111111"}, "encoding": {"x": {"datum": -0.9941}, "y": {"datum": 7.4106}}},
        {"data": {"values": [{}]}, "mark": {"type": "text", "text": "3000 Hz", "align": "left", "fontSize": 21, "fontWeight": "bold", "color": "#f01010"}, "encoding": {"x": {"datum": -0.9941}, "y": {"datum": 6.8936}}},
        {"data": {"values": [{}]}, "mark": {"type": "text", "text": "4000 Hz", "align": "left", "fontSize": 21, "fontWeight": "bold", "color": "#1515f0"}, "encoding": {"x": {"datum": -0.9941}, "y": {"datum": 6.3574}}}
      ]
    },
    {
      "width": 588, "height": 470,
      "title": {"text": "d", "dx": -65, "dy": 58},
      "layer": [
        {"data": {"name": "lnD"}, "mark": {"type": "line", "strokeDash": [14, 8], "strokeWidth": 2.5},
         "encoding": {
           "x": {"field": "E", "type": "quantitative", "scale": {"domain": [-1.364, 0.304], "nice": false, "zero": false},
                 "axis": {"title": "Potential E (V vs Ag/AgCl)", "titlePadding": 26, "values": [-1.2,-1.1,-1.0,-0.9,-0.8,-0.7,-0.6,-0.5,-0.4,-0.3,-0.2,-0.1,0,0.1,0.2,0.3],
                          "labelExpr": "abs(round(datum.value*10)) % 2 == 1 ? '' : replace(format(datum.value, '.1f'), '−', '-')",
                          "tickSize": {"condition": {"test": "abs(round(datum.value*10)) % 2 == 1", "value": 4}, "value": 7}}},
           "y": {"field": "C", "type": "quantitative", "scale": {"domain": [0, 2.25], "nice": false, "zero": false},
                 "axis": {"title": "1/C² (10⁸×cm⁴/F²)", "titlePadding": 12, "values": [0,0.25,0.5,0.75,1,1.25,1.5,1.75,2,2.25],
                          "labelExpr": "datum.value % 0.5 != 0 ? '' : format(datum.value, '.1f')",
                          "tickSize": {"condition": {"test": "datum.value % 0.5 != 0", "value": 4}, "value": 7}}},
           "stroke": {"field": "f", "type": "nominal", "scale": {"domain": ["2000 Hz","3000 Hz","4000 Hz"], "range": ["#1a1a1a","#ee1c1c","#1c1cee"]}, "legend": null}
         }},
        {"data": {"name": "msD"}, "mark": {"type": "point", "shape": "circle", "filled": true, "size": 230, "opacity": 1, "stroke": "black", "strokeWidth": 0.7, "strokeOpacity": 0.45},
         "encoding": {
           "x": {"field": "E", "type": "quantitative"},
           "y": {"field": "C", "type": "quantitative"},
           "color": {"field": "f", "type": "nominal", "scale": {"domain": ["2000 Hz","3000 Hz","4000 Hz"], "range": ["#202020","#f01010","#1515f0"]}, "legend": null}
         }},
        {"data": {"name": "msD"}, "mark": {"type": "point", "shape": "circle", "filled": true, "size": 24, "color": "white", "opacity": 0.55, "xOffset": -2, "yOffset": -2},
         "encoding": {"x": {"field": "E", "type": "quantitative"}, "y": {"field": "C", "type": "quantitative"}}},
        {"data": {"values": [{}]}, "mark": {"type": "text", "text": "-1.27 eV", "fontSize": 24, "fontWeight": "bold", "color": "black"},
         "encoding": {"x": {"datum": -1.133}, "y": {"datum": 0.67}}},
        {"data": {"values": [{}]}, "mark": {"type": "rule", "strokeWidth": 2, "color": "black"},
         "encoding": {"x": {"datum": -1.17}, "y": {"datum": 0.567}, "x2": {"datum": -1.28}, "y2": {"datum": 0.04}}},
        {"data": {"values": [{}]}, "mark": {"type": "point", "shape": "triangle-up", "filled": true, "size": 90, "color": "black", "opacity": 1, "angle": 200, "xOffset": 2.4, "yOffset": -6},
         "encoding": {"x": {"datum": -1.28}, "y": {"datum": 0.04}}},
        {"data": {"values": [{}]}, "mark": {"type": "text", "text": "CuS", "align": "left", "fontSize": 30, "fontWeight": "bold", "color": "black"},
         "encoding": {"x": {"datum": -1.279}, "y": {"datum": 2.08}}},
        {"data": {"values": [{}]}, "mark": {"type": "rect", "color": "black", "opacity": 1, "xOffset": 4, "yOffset": 4},
         "encoding": {"x": {"datum": -1.2732}, "x2": {"datum": -0.8591}, "y": {"datum": 1.9293}, "y2": {"datum": 1.5176}}},
        {"data": {"values": [{}]}, "mark": {"type": "rect", "fill": "white", "stroke": "#333333", "strokeWidth": 1.5, "opacity": 1},
         "encoding": {"x": {"datum": -1.2732}, "x2": {"datum": -0.8591}, "y": {"datum": 1.9293}, "y2": {"datum": 1.5176}}},
        {"data": {"values": [{}]}, "mark": {"type": "point", "shape": "circle", "filled": true, "size": 220, "color": "#202020", "opacity": 1}, "encoding": {"x": {"datum": -1.1938}, "y": {"datum": 1.8527}}},
        {"data": {"values": [{}]}, "mark": {"type": "point", "shape": "circle", "filled": true, "size": 220, "color": "#f01010", "opacity": 1}, "encoding": {"x": {"datum": -1.1938}, "y": {"datum": 1.7234}}},
        {"data": {"values": [{}]}, "mark": {"type": "point", "shape": "circle", "filled": true, "size": 220, "color": "#1515f0", "opacity": 1}, "encoding": {"x": {"datum": -1.1938}, "y": {"datum": 1.5894}}},
        {"data": {"values": [{}]}, "mark": {"type": "text", "text": "2000 Hz", "align": "left", "fontSize": 21, "fontWeight": "bold", "color": "#111111"}, "encoding": {"x": {"datum": -1.1144}, "y": {"datum": 1.8527}}},
        {"data": {"values": [{}]}, "mark": {"type": "text", "text": "3000 Hz", "align": "left", "fontSize": 21, "fontWeight": "bold", "color": "#f01010"}, "encoding": {"x": {"datum": -1.1144}, "y": {"datum": 1.7234}}},
        {"data": {"values": [{}]}, "mark": {"type": "text", "text": "4000 Hz", "align": "left", "fontSize": 21, "fontWeight": "bold", "color": "#1515f0"}, "encoding": {"x": {"datum": -1.1144}, "y": {"datum": 1.5894}}}
      ]
    },
    {
      "width": 545, "height": 470,
      "view": {"stroke": null},
      "data": {"values": [{}]},
      "mark": {"type": "point", "opacity": 0}
    },
    {
      "width": 590, "height": 470,
      "title": {"text": "e", "dx": -81, "dy": 58},
      "layer": [
        {"data": {"name": "lnE"}, "mark": {"type": "line", "strokeDash": [14, 8], "strokeWidth": 2.5},
         "encoding": {
           "x": {"field": "E", "type": "quantitative", "scale": {"domain": [-1.005, 0.205], "nice": false, "zero": false},
                 "axis": {"title": "Potential E (V vs Ag/AgCl)", "titlePadding": 26, "values": [-1.0,-0.9,-0.8,-0.7,-0.6,-0.5,-0.4,-0.3,-0.2,-0.1,0,0.1,0.2],
                          "labelExpr": "abs(round(datum.value*10)) % 2 == 1 ? '' : replace(format(datum.value, '.1f'), '−', '-')",
                          "tickSize": {"condition": {"test": "abs(round(datum.value*10)) % 2 == 1", "value": 4}, "value": 7}}},
           "y": {"field": "C", "type": "quantitative", "scale": {"domain": [0, 6.5], "nice": false, "zero": false},
                 "axis": {"title": "1/C² (10⁸×cm⁴/F²)", "titlePadding": 12, "values": [0,0.5,1,1.5,2,2.5,3,3.5,4,4.5,5,5.5,6,6.5],
                          "labelExpr": "datum.value % 1 != 0 ? '' : format(datum.value, 'd')",
                          "tickSize": {"condition": {"test": "datum.value % 1 != 0", "value": 4}, "value": 7}}},
           "stroke": {"field": "f", "type": "nominal", "scale": {"domain": ["2000 Hz","3000 Hz","4000 Hz"], "range": ["#1a1a1a","#ee1c1c","#1c1cee"]}, "legend": null}
         }},
        {"data": {"name": "msE"}, "mark": {"type": "point", "shape": "circle", "filled": true, "size": 230, "opacity": 1, "stroke": "black", "strokeWidth": 0.7, "strokeOpacity": 0.45},
         "encoding": {
           "x": {"field": "E", "type": "quantitative"},
           "y": {"field": "C", "type": "quantitative"},
           "color": {"field": "f", "type": "nominal", "scale": {"domain": ["2000 Hz","3000 Hz","4000 Hz"], "range": ["#202020","#f01010","#1515f0"]}, "legend": null}
         }},
        {"data": {"name": "msE"}, "mark": {"type": "point", "shape": "circle", "filled": true, "size": 24, "color": "white", "opacity": 0.55, "xOffset": -2, "yOffset": -2},
         "encoding": {"x": {"field": "E", "type": "quantitative"}, "y": {"field": "C", "type": "quantitative"}}},
        {"data": {"values": [{}]}, "mark": {"type": "text", "text": "-0.94 eV", "fontSize": 24, "fontWeight": "bold", "color": "black"},
         "encoding": {"x": {"datum": -0.80}, "y": {"datum": 1.86}}},
        {"data": {"values": [{}]}, "mark": {"type": "rule", "strokeWidth": 2, "color": "black"},
         "encoding": {"x": {"datum": -0.852}, "y": {"datum": 1.41}, "x2": {"datum": -0.93}, "y2": {"datum": 0.06}}},
        {"data": {"values": [{}]}, "mark": {"type": "point", "shape": "triangle-up", "filled": true, "size": 90, "color": "black", "opacity": 1, "angle": 202, "xOffset": 2.5, "yOffset": -6},
         "encoding": {"x": {"datum": -0.93}, "y": {"datum": 0.06}}},
        {"data": {"values": [{}]}, "mark": {"type": "text", "text": "In₂S₃", "align": "left", "fontSize": 30, "fontWeight": "bold", "color": "black"},
         "encoding": {"x": {"datum": -0.943}, "y": {"datum": 5.99}}},
        {"data": {"values": [{}]}, "mark": {"type": "rect", "color": "black", "opacity": 1, "xOffset": 4, "yOffset": 4},
         "encoding": {"x": {"datum": -0.9394}, "x2": {"datum": -0.6399}, "y": {"datum": 5.5734}, "y2": {"datum": 4.3841}}},
        {"data": {"values": [{}]}, "mark": {"type": "rect", "fill": "white", "stroke": "#333333", "strokeWidth": 1.5, "opacity": 1},
         "encoding": {"x": {"datum": -0.9394}, "x2": {"datum": -0.6399}, "y": {"datum": 5.5734}, "y2": {"datum": 4.3841}}},
        {"data": {"values": [{}]}, "mark": {"type": "point", "shape": "circle", "filled": true, "size": 220, "color": "#202020", "opacity": 1}, "encoding": {"x": {"datum": -0.8819}, "y": {"datum": 5.3522}}},
        {"data": {"values": [{}]}, "mark": {"type": "point", "shape": "circle", "filled": true, "size": 220, "color": "#f01010", "opacity": 1}, "encoding": {"x": {"datum": -0.8819}, "y": {"datum": 4.9788}}},
        {"data": {"values": [{}]}, "mark": {"type": "point", "shape": "circle", "filled": true, "size": 220, "color": "#1515f0", "opacity": 1}, "encoding": {"x": {"datum": -0.8819}, "y": {"datum": 4.5916}}},
        {"data": {"values": [{}]}, "mark": {"type": "text", "text": "2000 Hz", "align": "left", "fontSize": 21, "fontWeight": "bold", "color": "#111111"}, "encoding": {"x": {"datum": -0.8225}, "y": {"datum": 5.3522}}},
        {"data": {"values": [{}]}, "mark": {"type": "text", "text": "3000 Hz", "align": "left", "fontSize": 21, "fontWeight": "bold", "color": "#f01010"}, "encoding": {"x": {"datum": -0.8225}, "y": {"datum": 4.9788}}},
        {"data": {"values": [{}]}, "mark": {"type": "text", "text": "4000 Hz", "align": "left", "fontSize": 21, "fontWeight": "bold", "color": "#1515f0"}, "encoding": {"x": {"datum": -0.8225}, "y": {"datum": 4.5916}}}
      ]
    },
    {
      "width": 408, "height": 470,
      "view": {"stroke": null},
      "title": {"text": "g", "dx": -59, "dy": 58},
      "encoding": {
        "x": {"field": "x", "type": "quantitative", "scale": {"domain": [1.02, 9.02], "nice": false, "zero": false}, "axis": null},
        "y": {"field": "y", "type": "quantitative", "scale": {"domain": [-0.04, 9.96], "nice": false, "zero": false}, "axis": null}
      },
      "layer": [
        {"data": {"values": [{"x": 0.73, "y": 8.64}]}, "mark": {"type": "point", "filled": true, "opacity": 1, "size": 7056, "color": "#f7a51c",
          "shape": "M1,0L0.765,0.152L0.924,0.383L0.649,0.433L0.707,0.707L0.433,0.649L0.383,0.924L0.152,0.765L0,1L-0.152,0.765L-0.383,0.924L-0.433,0.649L-0.707,0.707L-0.649,0.433L-0.924,0.383L-0.765,0.152L-1,0L-0.765,-0.152L-0.924,-0.383L-0.649,-0.433L-0.707,-0.707L-0.433,-0.649L-0.383,-0.924L-0.152,-0.765L0,-1L0.152,-0.765L0.383,-0.924L0.433,-0.649L0.707,-0.707L0.649,-0.433L0.924,-0.383L0.765,-0.152Z"}},
        {"data": {"values": [{"x": 0.73, "y": 8.64}]}, "mark": {"type": "point", "shape": "circle", "filled": true, "opacity": 1, "size": 3600,
          "fill": {"gradient": "radial", "x1": 0.45, "y1": 0.45, "x2": 0.5, "y2": 0.5, "r1": 0, "r2": 0.5, "stops": [{"offset": 0, "color": "#ffe066"}, {"offset": 1, "color": "#ffb400"}]}}},
        {"data": {"values": [{"x": 2.16, "y": 7.83}]}, "mark": {"type": "point", "filled": true, "opacity": 1, "size": 4900, "angle": 34,
          "shape": "M-1,-0.32L0.12,-0.02L-0.04,-0.16L1,0.3L-0.12,0.1L0.04,0.24L-1,0.02Z",
          "fill": {"gradient": "linear", "x1": 0, "y1": 0.5, "x2": 1, "y2": 0.5, "stops": [{"offset": 0, "color": "#e8302a"}, {"offset": 0.35, "color": "#f5c010"}, {"offset": 0.65, "color": "#6cbf3a"}, {"offset": 1, "color": "#1aa8e8"}]}}},
        {"data": {"values": [{"x": 1.45, "y": 7.13}]}, "mark": {"type": "point", "filled": true, "opacity": 1, "size": 4900, "angle": 55,
          "shape": "M-1,-0.32L0.12,-0.02L-0.04,-0.16L1,0.3L-0.12,0.1L0.04,0.24L-1,0.02Z",
          "fill": {"gradient": "linear", "x1": 0, "y1": 0.5, "x2": 1, "y2": 0.5, "stops": [{"offset": 0, "color": "#e8302a"}, {"offset": 0.35, "color": "#f5c010"}, {"offset": 0.65, "color": "#6cbf3a"}, {"offset": 1, "color": "#1aa8e8"}]}}},
        {"data": {"values": [{"x": 5.33, "y": 4.17}]}, "mark": {"type": "point", "shape": "circle", "filled": true, "opacity": 1, "size": 48400, "stroke": "#7465b5", "strokeWidth": 2,
          "fill": {"gradient": "radial", "x1": 0.42, "y1": 0.4, "x2": 0.5, "y2": 0.5, "r1": 0, "r2": 0.5, "stops": [{"offset": 0, "color": "#a99be0"}, {"offset": 1, "color": "#7d6cc0"}]}}},
        {"data": {"values": [{"x": 4.90, "y": 3.09, "x2": 4.69, "y2": 4.47}, {"x": 5.33, "y": 3.09, "x2": 5.37, "y2": 4.53}, {"x": 5.78, "y": 3.09, "x2": 5.98, "y2": 4.49}]},
         "mark": {"type": "rule", "color": "#f9a825", "strokeWidth": 10, "strokeCap": "round"},
         "encoding": {"x2": {"field": "x2"}, "y2": {"field": "y2"}}},
        {"data": {"values": [{"x": 4.69, "y": 4.47}, {"x": 5.37, "y": 4.53}, {"x": 5.98, "y": 4.49}]},
         "mark": {"type": "point", "shape": "triangle-up", "filled": true, "opacity": 1, "size": 420, "color": "#ec2a1b"}},
        {"data": {"values": [{"x": 2.43, "y": 4.06}, {"x": 3.27, "y": 3.72}, {"x": 4.06, "y": 4.0}, {"x": 4.51, "y": 4.57}, {"x": 4.78, "y": 5.43}, {"x": 4.84, "y": 6.0}]},
         "mark": {"type": "line", "color": "#bddfe9", "strokeWidth": 15, "interpolate": "monotone", "opacity": 0.95}},
        {"data": {"values": [{"x": 4.85, "y": 6.25}]}, "mark": {"type": "point", "shape": "triangle-up", "filled": true, "opacity": 1, "size": 700, "color": "#cfe8f0"}},
        {"data": {"values": [{"x": 0.92, "y": 4.53}]}, "mark": {"type": "point", "filled": true, "opacity": 1, "size": 5625, "color": "#dde9f6", "stroke": "#8c9cae", "strokeWidth": 2,
          "shape": "M-1,0A1,0.66 0 1,1 1,0A1,0.66 0 1,1 -1,0Z"}},
        {"data": {"values": [{"x": 5.96, "y": 8.04}]}, "mark": {"type": "point", "filled": true, "opacity": 1, "size": 4900, "color": "#a9d18e", "stroke": "#6a9a4a", "strokeWidth": 2,
          "shape": "M-1,0A1,0.7 0 1,1 1,0A1,0.7 0 1,1 -1,0Z"}},
        {"data": {"values": [
           {"x": 3.86, "y": 7.72, "x2": 4.65, "y2": 7.77}, {"x": 4.20, "y": 6.87, "x2": 4.98, "y2": 6.91},
           {"x": 3.53, "y": 8.30, "x2": 3.86, "y2": 7.72}, {"x": 4.94, "y": 8.30, "x2": 4.65, "y2": 7.77},
           {"x": 3.51, "y": 7.13, "x2": 3.86, "y2": 7.72}, {"x": 5.27, "y": 7.45, "x2": 4.98, "y2": 6.91},
           {"x": 3.86, "y": 6.26, "x2": 4.20, "y2": 6.87}, {"x": 5.29, "y": 6.24, "x2": 4.98, "y2": 6.91},
           {"x": 5.98, "y": 6.55, "x2": 6.65, "y2": 6.55},
           {"x": 1.25, "y": 5.53, "x2": 1.86, "y2": 5.23}, {"x": 1.86, "y": 5.23, "x2": 2.45, "y2": 5.0},
           {"x": 2.0, "y": 3.57, "x2": 2.10, "y2": 4.11}, {"x": 2.0, "y": 3.57, "x2": 1.57, "y2": 3.53}]},
         "mark": {"type": "rule", "color": "#b0b0b0", "strokeWidth": 5},
         "encoding": {"x2": {"field": "x2"}, "y2": {"field": "y2"}}},
        {"data": {"values": [
           {"el": "C", "x": 3.86, "y": 7.72}, {"el": "C", "x": 4.65, "y": 7.77}, {"el": "C", "x": 4.20, "y": 6.87}, {"el": "C", "x": 4.98, "y": 6.91},
           {"el": "H", "x": 3.53, "y": 8.30}, {"el": "H", "x": 4.94, "y": 8.30}, {"el": "H", "x": 3.51, "y": 7.13}, {"el": "H", "x": 5.27, "y": 7.45}, {"el": "H", "x": 3.86, "y": 6.26}, {"el": "H", "x": 5.29, "y": 6.24},
           {"el": "O", "x": 5.98, "y": 6.55}, {"el": "C", "x": 6.65, "y": 6.55},
           {"el": "O", "x": 1.25, "y": 5.53}, {"el": "C", "x": 1.86, "y": 5.23}, {"el": "O", "x": 2.45, "y": 5.0},
           {"el": "O", "x": 2.0, "y": 3.57}, {"el": "H", "x": 2.10, "y": 4.11}, {"el": "H", "x": 1.57, "y": 3.53},
           {"el": "C", "x": 7.55, "y": 8.85}, {"el": "O", "x": 7.55, "y": 8.23}, {"el": "H", "x": 7.55, "y": 7.62}]},
         "mark": {"type": "point", "shape": "circle", "filled": true, "opacity": 1, "stroke": "#555555", "strokeWidth": 1},
         "encoding": {
           "color": {"field": "el", "type": "nominal", "scale": {"domain": ["C", "O", "H"], "range": ["#a3a3a3", "#e8141e", "#f2f2f2"]}, "legend": null},
           "size": {"field": "el", "type": "nominal", "scale": {"domain": ["C", "O", "H"], "range": [600, 500, 300]}, "legend": null}
         }},
        {"data": {"values": [{"t": "C", "x": 8.15, "y": 8.85}, {"t": "O", "x": 8.15, "y": 8.23}, {"t": "H", "x": 8.15, "y": 7.62}]},
         "mark": {"type": "text", "align": "left", "fontSize": 24, "color": "#333333"}, "encoding": {"text": {"field": "t"}}},
        {"data": {"values": [{"t": "CO₂", "x": 0.92, "y": 4.53}, {"t": "C₂H₄", "x": 5.96, "y": 8.04}]},
         "mark": {"type": "text", "fontSize": 24, "fontWeight": "bold", "color": "#222222"}, "encoding": {"text": {"field": "t"}}},
        {"data": {"values": [{"t": "heat", "x": 5.47, "y": 2.66}]},
         "mark": {"type": "text", "fontSize": 27, "fontWeight": "bold", "color": "#ee1c1c"}, "encoding": {"text": {"field": "t"}}},
        {"data": {"values": [{"t": "CuₓInᵧS", "x": 5.27, "y": 0.74}]},
         "mark": {"type": "text", "fontSize": 32, "fontWeight": "bold", "color": "#333333"}, "encoding": {"text": {"field": "t"}}},
        {"data": {"values": [{"x": 6.86, "y": 4.32}]}, "mark": {"type": "point", "shape": "circle", "filled": false, "opacity": 1, "size": 1300, "color": "#ee1111", "strokeWidth": 2.5, "strokeDash": [5, 3]}},
        {"data": {"values": [{"x": 7.25, "y": 4.23, "x2": 8.6}]}, "mark": {"type": "rule", "color": "#ee1111", "strokeWidth": 2.5, "strokeDash": [7, 4]},
         "encoding": {"x2": {"field": "x2"}}},
        {"data": {"values": [{"x": 8.72, "y": 4.23}]}, "mark": {"type": "point", "shape": "triangle-right", "filled": true, "opacity": 1, "size": 130, "color": "#ee1111"}}
      ]
    },
    {
      "width": 545, "height": 495,
      "view": {"stroke": null},
      "resolve": {"scale": {"x": "independent", "color": "independent", "fill": "independent", "stroke": "independent"}},
      "layer": [
        {"data": {"name": "bands"}, "mark": {"type": "rect", "opacity": 1},
         "encoding": {
           "x": {"field": "m", "type": "nominal", "sort": ["CuS","In2S3","CuIn5S8","CuIn2S4","CuInS2"], "scale": {"range": [-173, 315], "paddingInner": 0, "paddingOuter": 0}, "axis": null},
           "y": {"field": "top", "type": "quantitative", "scale": {"domain": [-1.5, 1.5], "range": [19, 493], "nice": false, "zero": false},
                 "axis": {"title": "Potential  (V vs NHE)", "titleFontSize": 38, "titlePadding": 10, "domainWidth": 4, "tickWidth": 3, "offset": 180,
                          "values": [-1.5,-1.25,-1,-0.75,-0.5,-0.25,0,0.25,0.5,0.75,1,1.25,1.5],
                          "labelExpr": "datum.value % 0.5 != 0 ? '' : replace(format(datum.value, '.1f'), '−', '-')",
                          "labelFont": "Liberation Sans Narrow, Arial Narrow, DejaVu Sans Condensed, Arial, sans-serif", "labelFontSize": 27, "labelPadding": 8,
                          "tickSize": {"condition": {"test": "datum.value % 0.5 != 0", "value": -5}, "value": -8}}},
           "y2": {"field": "bot"},
           "fill": {"field": "m", "type": "nominal", "scale": {"domain": ["CuS","In2S3","CuIn5S8","CuIn2S4","CuInS2"], "range": ["#fdd766","#b5db84","#62cff4","#f0a070","#e87b7b"]}, "legend": null}
         }},
        {"data": {"name": "bands"}, "mark": {"type": "tick", "size": 98, "thickness": 5, "opacity": 1},
         "encoding": {
           "x": {"field": "m", "type": "nominal", "sort": ["CuS","In2S3","CuIn5S8","CuIn2S4","CuInS2"], "scale": {"range": [-173, 315], "paddingInner": 0, "paddingOuter": 0}, "axis": null},
           "y": {"field": "cb", "type": "quantitative"},
           "color": {"field": "m", "type": "nominal", "scale": {"domain": ["CuS","In2S3","CuIn5S8","CuIn2S4","CuInS2"], "range": ["#ffc000","#92d050","#0db0ee","#ea6a14","#d42828"]}, "legend": null}
         }},
        {"data": {"name": "bands"}, "mark": {"type": "tick", "size": 98, "thickness": 5, "opacity": 1},
         "encoding": {
           "x": {"field": "m", "type": "nominal", "sort": ["CuS","In2S3","CuIn5S8","CuIn2S4","CuInS2"], "scale": {"range": [-173, 315], "paddingInner": 0, "paddingOuter": 0}, "axis": null},
           "y": {"field": "vb", "type": "quantitative"},
           "color": {"field": "m", "type": "nominal", "scale": {"domain": ["CuS","In2S3","CuIn5S8","CuIn2S4","CuInS2"], "range": ["#ffc000","#92d050","#0db0ee","#ea6a14","#d42828"]}, "legend": null}
         }},
        {"data": {"name": "bands"}, "mark": {"type": "rule", "strokeWidth": 3},
         "encoding": {
           "x": {"field": "m", "type": "nominal", "bandPosition": 0.45, "sort": ["CuS","In2S3","CuIn5S8","CuIn2S4","CuInS2"], "scale": {"range": [-173, 315], "paddingInner": 0, "paddingOuter": 0}, "axis": null},
           "y": {"field": "vb", "type": "quantitative"},
           "y2": {"field": "cb"},
           "color": {"field": "m", "type": "nominal", "scale": {"domain": ["CuS","In2S3","CuIn5S8","CuIn2S4","CuInS2"], "range": ["#ffc000","#92d050","#0db0ee","#ea6a14","#d42828"]}, "legend": null}
         }},
        {"data": {"name": "bands"}, "mark": {"type": "point", "shape": "triangle-up", "filled": true, "size": 160, "opacity": 1, "yOffset": 10},
         "encoding": {
           "x": {"field": "m", "type": "nominal", "bandPosition": 0.45, "sort": ["CuS","In2S3","CuIn5S8","CuIn2S4","CuInS2"], "scale": {"range": [-173, 315], "paddingInner": 0, "paddingOuter": 0}, "axis": null},
           "y": {"field": "cb", "type": "quantitative"},
           "color": {"field": "m", "type": "nominal", "scale": {"domain": ["CuS","In2S3","CuIn5S8","CuIn2S4","CuInS2"], "range": ["#ffc000","#92d050","#0db0ee","#ea6a14","#d42828"]}, "legend": null}
         }},
        {"data": {"name": "bands"}, "mark": {"type": "text", "text": "e⁻ e⁻", "color": "white", "fontSize": 26, "baseline": "middle", "dy": 22, "font": "Liberation Sans Narrow, Arial Narrow, DejaVu Sans Condensed, Arial, sans-serif"},
         "encoding": {
           "x": {"field": "m", "type": "nominal", "sort": ["CuS","In2S3","CuIn5S8","CuIn2S4","CuInS2"], "scale": {"range": [-173, 315], "paddingInner": 0, "paddingOuter": 0}, "axis": null},
           "y": {"field": "top", "type": "quantitative"}
         }},
        {"data": {"name": "bands"}, "mark": {"type": "text", "text": "h⁺ h⁺", "color": "white", "fontSize": 28, "baseline": "middle", "dy": -22, "font": "Liberation Sans Narrow, Arial Narrow, DejaVu Sans Condensed, Arial, sans-serif"},
         "encoding": {
           "x": {"field": "m", "type": "nominal", "sort": ["CuS","In2S3","CuIn5S8","CuIn2S4","CuInS2"], "scale": {"range": [-173, 315], "paddingInner": 0, "paddingOuter": 0}, "axis": null},
           "y": {"field": "bot", "type": "quantitative"}
         }},
        {"data": {"name": "bands"}, "mark": {"type": "text", "text": "CB", "color": "white", "fontSize": 18, "fontWeight": "bold", "baseline": "middle", "dy": 17, "font": "Liberation Sans Narrow, Arial Narrow, DejaVu Sans Condensed, Arial, sans-serif"},
         "encoding": {
           "x": {"field": "m", "type": "nominal", "bandPosition": 0.8, "sort": ["CuS","In2S3","CuIn5S8","CuIn2S4","CuInS2"], "scale": {"range": [-173, 315], "paddingInner": 0, "paddingOuter": 0}, "axis": null},
           "y": {"field": "cb", "type": "quantitative"}
         }},
        {"data": {"name": "bands"}, "mark": {"type": "text", "text": "VB", "color": "white", "fontSize": 18, "fontWeight": "bold", "baseline": "middle", "dy": -15, "font": "Liberation Sans Narrow, Arial Narrow, DejaVu Sans Condensed, Arial, sans-serif"},
         "encoding": {
           "x": {"field": "m", "type": "nominal", "bandPosition": 0.8, "sort": ["CuS","In2S3","CuIn5S8","CuIn2S4","CuInS2"], "scale": {"range": [-173, 315], "paddingInner": 0, "paddingOuter": 0}, "axis": null},
           "y": {"field": "vb", "type": "quantitative"}
         }},
        {"data": {"name": "bands"}, "transform": [{"filter": "datum.m !== 'CuIn5S8'"}], "mark": {"type": "text", "fontSize": 29, "fontWeight": "bold", "baseline": "middle", "dy": 28, "font": "Liberation Sans Narrow, Arial Narrow, DejaVu Sans Condensed, Arial, sans-serif"},
         "encoding": {
           "x": {"field": "m", "type": "nominal", "sort": ["CuS","In2S3","CuIn5S8","CuIn2S4","CuInS2"], "scale": {"domain": ["CuS","In2S3","CuIn5S8","CuIn2S4","CuInS2"], "range": [-173, 315], "paddingInner": 0, "paddingOuter": 0}, "axis": null},
           "y": {"field": "bot", "type": "quantitative"},
           "text": {"field": "name"},
           "color": {"field": "m", "type": "nominal", "scale": {"domain": ["CuS","In2S3","CuIn5S8","CuIn2S4","CuInS2"], "range": ["#ffc000","#8cc63f","#00b0f0","#e8681a","#d42020"]}, "legend": null}
         }},
        {"data": {"name": "bands"}, "transform": [{"filter": "datum.m === 'CuIn5S8'"}], "mark": {"type": "text", "fontSize": 29, "fontWeight": "bold", "baseline": "middle", "dy": 52, "dx": 2, "color": "#00b0f0", "font": "Liberation Sans Narrow, Arial Narrow, DejaVu Sans Condensed, Arial, sans-serif"},
         "encoding": {
           "x": {"field": "m", "type": "nominal", "sort": ["CuS","In2S3","CuIn5S8","CuIn2S4","CuInS2"], "scale": {"domain": ["CuS","In2S3","CuIn5S8","CuIn2S4","CuInS2"], "range": [-173, 315], "paddingInner": 0, "paddingOuter": 0}, "axis": null},
           "y": {"field": "bot", "type": "quantitative"},
           "text": {"field": "name"}
         }},
        {"data": {"name": "redox"}, "transform": [{"filter": "datum.v < -0.4"}], "mark": {"type": "rule", "color": "black", "strokeWidth": 3, "strokeDash": [10, 6]},
         "encoding": {
           "x": {"datum": 0.01, "type": "quantitative", "scale": {"domain": [0, 1], "range": [-180, 550]}, "axis": null},
           "x2": {"datum": 0.713},
           "y": {"field": "v", "type": "quantitative"}
         }},
        {"data": {"name": "redox"}, "transform": [{"filter": "datum.v > -0.4"}], "mark": {"type": "rule", "color": "#d01010", "strokeWidth": 3, "strokeDash": [10, 6]},
         "encoding": {
           "x": {"datum": 0.01, "type": "quantitative", "scale": {"domain": [0, 1], "range": [-180, 550]}, "axis": null},
           "x2": {"datum": 0.713},
           "y": {"field": "v", "type": "quantitative"}
         }},
        {"data": {"values": [{}]}, "mark": {"type": "text", "text": "CO/CO₂=-0.53", "align": "left", "baseline": "middle", "fontSize": 25, "color": "#111111", "dy": -8, "font": "Liberation Sans Narrow, Arial Narrow, DejaVu Sans Condensed, Arial, sans-serif"},
         "encoding": {"x": {"datum": 0.72, "type": "quantitative", "scale": {"domain": [0, 1], "range": [-180, 550]}, "axis": null}, "y": {"datum": -0.53, "type": "quantitative"}}},
        {"data": {"values": [{}]}, "mark": {"type": "text", "text": "-H₂/ H₂O =-0.42", "align": "left", "baseline": "middle", "fontSize": 25, "color": "#111111", "dy": 2, "font": "Liberation Sans Narrow, Arial Narrow, DejaVu Sans Condensed, Arial, sans-serif"},
         "encoding": {"x": {"datum": 0.713, "type": "quantitative", "scale": {"domain": [0, 1], "range": [-180, 550]}, "axis": null}, "y": {"datum": -0.42, "type": "quantitative"}}},
        {"data": {"values": [{}]}, "mark": {"type": "text", "text": "C₂H₄/CO₂=-0.34", "align": "left", "baseline": "middle", "fontSize": 25, "fontWeight": "bold", "color": "#d01010", "dy": 20, "font": "Liberation Sans Narrow, Arial Narrow, DejaVu Sans Condensed, Arial, sans-serif"},
         "encoding": {"x": {"datum": 0.72, "type": "quantitative", "scale": {"domain": [0, 1], "range": [-180, 550]}, "axis": null}, "y": {"datum": -0.34, "type": "quantitative"}}},
        {"data": {"values": [{}]}, "mark": {"type": "text", "text": "CB", "align": "left", "baseline": "middle", "fontSize": 32, "fontWeight": "bold", "color": "#222222", "font": "Liberation Sans Narrow, Arial Narrow, DejaVu Sans Condensed, Arial, sans-serif"},
         "encoding": {"x": {"datum": 0.03, "type": "quantitative", "scale": {"domain": [0, 1], "range": [-180, 550]}, "axis": null}, "y": {"datum": -1.4, "type": "quantitative"}}},
        {"data": {"values": [{}]}, "mark": {"type": "text", "text": "VB", "align": "left", "baseline": "middle", "fontSize": 32, "fontWeight": "bold", "color": "#222222", "font": "Liberation Sans Narrow, Arial Narrow, DejaVu Sans Condensed, Arial, sans-serif"},
         "encoding": {"x": {"datum": 0.03, "type": "quantitative", "scale": {"domain": [0, 1], "range": [-180, 550]}, "axis": null}, "y": {"datum": 1.44, "type": "quantitative"}}}
      ]
    }
  ]
}
